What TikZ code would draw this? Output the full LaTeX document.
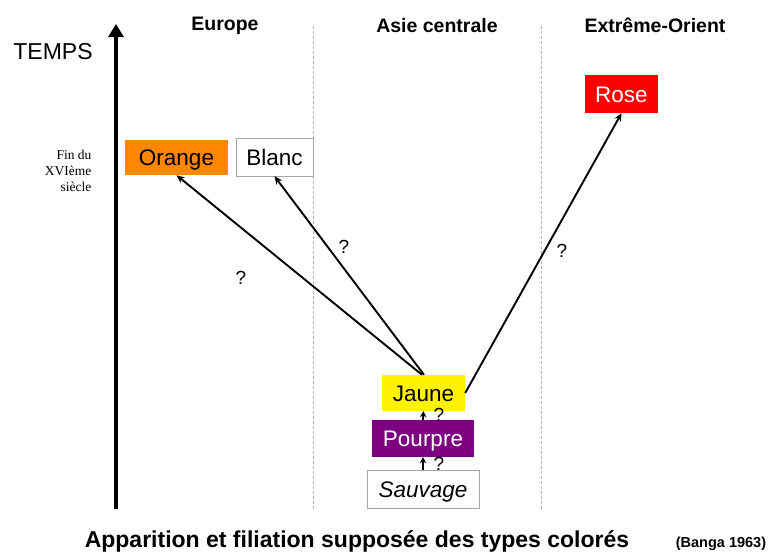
\documentclass[tikz,border=0pt]{standalone}
\usepackage{fontspec}
\setmainfont{Liberation Sans}
\newfontfamily\finfont{Liberation Serif}
\usetikzlibrary{arrows.meta}
\definecolor{pourprecol}{RGB}{125,0,128}

\begin{document}
\begin{tikzpicture}[x=1pt, y=-1pt,
    typebox/.style={inner sep=0pt, text height=17.5pt, text depth=1pt, font=\fontsize{22.5}{22.5}\selectfont},
    region/.style={font=\bfseries\fontsize{19.5}{19.5}\selectfont},
    qmark/.style={font=\fontsize{19}{19}\selectfont, inner sep=0pt},
    filiation/.style={-{Stealth[length=8pt,width=7pt]}, line width=1.9pt},
    sep/.style={draw=black!30, line width=0.9pt, dash pattern=on 2.5pt off 2.5pt}]
    \useasboundingbox (0,0) rectangle (780,555);

    % axe du temps
    \coordinate (t0) at (116,509);
    \coordinate (t1) at (116,24);
    \draw[line width=4pt, -{Triangle[length=13pt,width=15pt]}] (t0)--(t1);
    \node (temps) at (53,52) {\fontsize{23}{23}\selectfont TEMPS};
    \node[anchor=east, align=right, font=\finfont\fontsize{13.5}{16}\selectfont] (fin) at (95,171)
        {Fin du\\XVIème\\siècle};

    % regions
    \node[region] (europe) at (225,26) {Europe};
    \node[region] (asie) at (437,26) {Asie centrale};
    \node[region] (orient) at (655,25) {Extrême-Orient};
    \coordinate (s1a) at (313,26);
    \coordinate (s1b) at (313,510);
    \coordinate (s2a) at (541,26);
    \coordinate (s2b) at (541,510);
    \draw[sep] (s1a)--(s1b);
    \draw[sep] (s2a)--(s2b);

    % types colores
    \node[typebox, fill=orange!95!yellow, minimum width=103pt, minimum height=35pt] (orange) at (176.5,157.5) {Orange};
    \node[typebox, draw=black!35, fill=white, minimum width=77pt, minimum height=38pt] (blanc) at (274.5,157) {Blanc};
    \node[typebox, fill=red, text=white, minimum width=73pt, minimum height=38pt] (rose) at (621.5,94) {Rose};
    \node[typebox, fill=yellow, minimum width=83pt, minimum height=36pt] (jaune) at (423.5,393) {Jaune};
    \node[typebox, fill=pourprecol, text=white, minimum width=102pt, minimum height=37pt] (pourpre) at (423,438.5) {Pourpre};
    \node[typebox, draw=black!35, fill=white, minimum width=112pt, minimum height=38pt] (sauvage) at (423,489) {\itshape Sauvage};

    \draw[filiation] ([xshift=-1.5pt]jaune.north) -- (orange.south);
    \draw[filiation] ([xshift=0.5pt]jaune.north) -- (blanc.south);
    \draw[filiation] (jaune.east) -- (rose.south);
    \draw[filiation, -{Stealth[length=6pt,width=6.5pt]}] (pourpre.north) -- (jaune.south);
    \draw[filiation, -{Stealth[length=6pt,width=6.5pt]}] (sauvage.north) -- (pourpre.south);

    \node[qmark] (q1) at (241,278) {?};
    \node[qmark] (q2) at (344,247) {?};
    \node[qmark] (q3) at (562,251) {?};
    \node[qmark] (q4) at (439,415) {?};
    \node[qmark] (q5) at (439,464) {?};

    % legende
    \node[font=\bfseries\fontsize{23}{23}\selectfont] (legend) at (357,541)
        {Apparition et filiation supposée des types colorés};
    \node[font=\bfseries\fontsize{14.5}{14.5}\selectfont] (banga) at (721,544) {(Banga 1963)};
\end{tikzpicture}
\end{document}
